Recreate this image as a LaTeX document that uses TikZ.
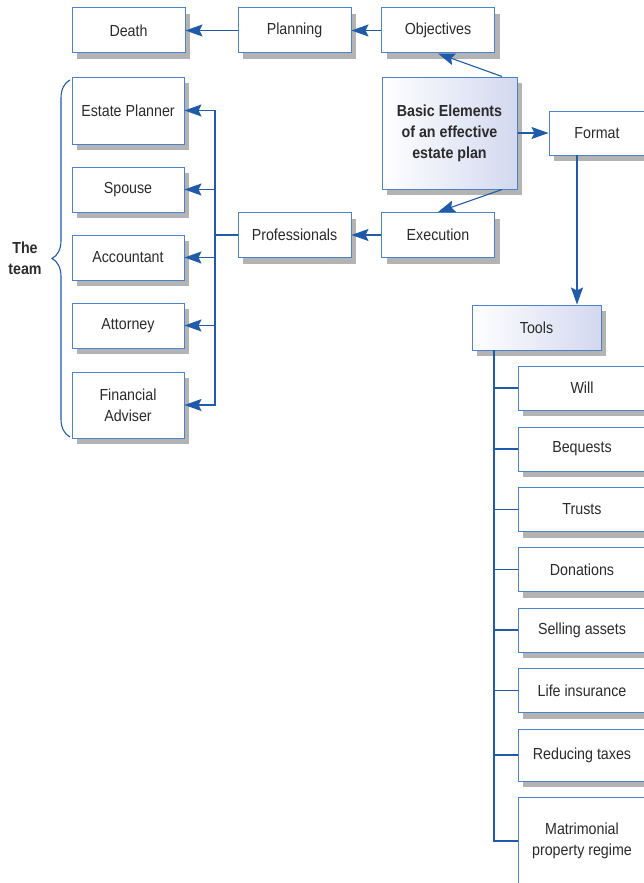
\documentclass[tikz,border=0pt]{standalone}
\usepackage{fontspec}
\setmainfont{Liberation Sans}[FakeStretch=0.89]
\usetikzlibrary{arrows.meta,shadows,decorations.pathreplacing}
\definecolor{linecol}{HTML}{1F5BA8}
\definecolor{boxline}{HTML}{4A82CC}
\definecolor{textcol}{HTML}{2B2B2B}
\definecolor{shade}{HTML}{D3D8EF}
\tikzset{every node/.style={text=textcol,font=\fontsize{16}{21}\selectfont,inner sep=0pt,align=center}}
\tikzset{box/.style={rectangle,draw=boxline,line width=1pt,fill=white,minimum width=113pt,minimum height=45pt,
  drop shadow={shadow xshift=5pt,shadow yshift=-6pt,opacity=0.42,fill=black!70}}}
\tikzset{tbox/.style={box,minimum width=128pt,minimum height=44pt}}
\tikzset{grad/.style={left color=white,right color=shade}}
\tikzset{arr/.style={-{Stealth[length=17pt,width=12pt,inset=3pt]},draw=linecol,line width=1.1pt}}
\tikzset{ln/.style={draw=linecol,line width=1.3pt}}

\begin{document}
\begin{tikzpicture}[x=1pt,y=-1pt]
      \clip (0,0) rectangle (644,883);
      \fill[white] (0,0) rectangle (644,883);
      % top row
      \node[box] (death) at (128.5,30.5) {Death};
      \node[box] (planning) at (294.5,30.5) {Planning};
      \node[box] (objectives) at (438,30.5) {Objectives};
      \node[box,grad,minimum width=135pt,minimum height=112pt,font=\bfseries\fontsize{16}{21}\selectfont] (basic) at (449.5,133) {Basic Elements\\of an effective\\estate plan};
      \node[box,minimum width=96pt,minimum height=44pt] (format) at (597,133) {Format};
      \node[box] (execution) at (438,235) {Execution};
      \node[box] (professionals) at (294.5,235) {Professionals};
      % the team
      \node[box,minimum width=112pt,minimum height=67pt] (planner) at (128,110.5) {Estate Planner};
      \node[box,minimum width=112pt] (spouse) at (128,189.5) {Spouse};
      \node[box,minimum width=112pt] (accountant) at (128,257.5) {Accountant};
      \node[box,minimum width=112pt] (attorney) at (128,325.5) {Attorney};
      \node[box,minimum width=112pt,minimum height=66pt] (adviser) at (128,405) {Financial\\Adviser};
      \node[font=\bfseries\fontsize{16}{21}\selectfont] (team) at (25,258) {The\\team};
      % tools
      \node[box,grad,minimum width=129pt] (tools) at (536.5,327.5) {Tools};
      \node[tbox] (will) at (582,388) {Will};
      \node[tbox] (bequests) at (582,449) {Bequests};
      \node[tbox] (trusts) at (582,509.5) {Trusts};
      \node[tbox] (donations) at (582,569.5) {Donations};
      \node[tbox] (selling) at (582,630) {Selling assets};
      \node[tbox] (life) at (582,690.5) {Life insurance};
      \node[tbox,minimum height=52pt] (reducing) at (582,755) {Reducing taxes};
      \node[tbox,minimum height=88pt] (matrimonial) at (582,841) {Matrimonial\\property regime};

      \coordinate (bus) at (215,235);
      \coordinate (tbus) at (494,350);
      \coordinate (fdrop) at (577,155);
      \coordinate (brtop) at (70,80);
      \coordinate (brbot) at (70,437);

        \draw[arr] (planning) -- (death);
        \draw[arr] (objectives) -- (planning);
        \draw[arr] ([xshift=52.5pt]basic.north) -- (objectives.south);
        \draw[arr] ([xshift=52.5pt]basic.south) -- (execution.north);
        \draw[arr] (basic) -- (format);
        \draw[arr] (fdrop) -- (fdrop |- tools.north);
        \draw[arr] (execution) -- (professionals);
        \draw[ln,line width=1.1pt] (professionals) -- (bus);
        \foreach \n in {planner,spouse,accountant,attorney,adviser}
          \draw[arr] (bus) |- (\n.east);
        \foreach \n in {will,bequests,trusts,donations,selling,life,reducing,matrimonial}
          \draw[ln] (tbus) |- (\n.west);
        \draw[ln,line width=2.4pt] (215,178) -- (215,215) (215,314) -- (215,352) (494,350) -- (494,373);
        \draw[linecol,line width=1.1pt,decorate,decoration={brace,amplitude=18pt}] (brbot) -- (brtop);
    \end{tikzpicture}
\end{document}
